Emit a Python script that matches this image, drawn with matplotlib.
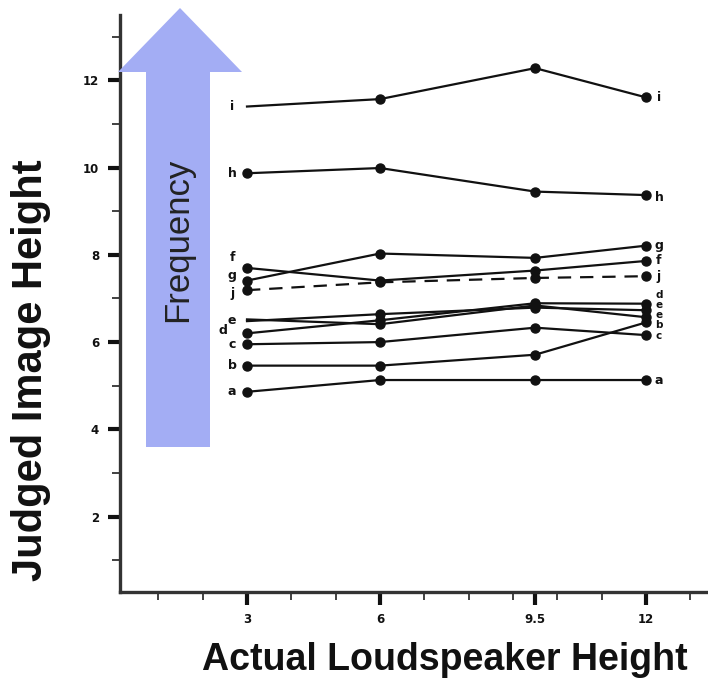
import matplotlib
matplotlib.use("Agg")
import matplotlib.pyplot as plt
from matplotlib.patches import Polygon

# speaker heights (x) and judged heights per band
speaker_heights = [3, 6, 9.5, 12]
x_tick_labels = ["3", "6", "9.5", "12"]
y_ticks = [2, 4, 6, 8, 10, 12]

band_i = [11.40, 11.57, 12.28, 11.61]
band_h = [9.87, 9.99, 9.45, 9.37]
band_g = [7.41, 8.03, 7.93, 8.21]
band_f = [7.70, 7.41, 7.64, 7.86]
band_j = [7.19, 7.37, 7.47, 7.51]
band_d = [6.20, 6.50, 6.89, 6.88]
band_e = [6.48, 6.64, 6.79, 6.73]
band_e2 = [6.52, 6.41, 6.84, 6.57]
band_c = [5.95, 6.00, 6.33, 6.16]
band_b = [5.46, 5.46, 5.71, 6.45]
band_a = [4.86, 5.13, 5.13, 5.13]

series = [
    # values, left label, right label, dashed, dot at first point
    (band_i, "i", "i", False, False),
    (band_h, "h", "h", False, True),
    (band_g, "g", "g", False, True),
    (band_f, "f", "f", False, True),
    (band_j, "j", "j", True, True),
    (band_d, "d", "d", False, True),
    (band_e, "e", "e", False, False),
    (band_e2, "", "e", False, False),
    (band_c, "c", "c", False, True),
    (band_b, "b", "b", False, True),
    (band_a, "a", "a", False, True),
]

# small pixel nudges for the letter labels so they don't collide
left_nudge = {"f": (0, 10), "g": (0, 5), "j": (0, -3), "d": (-9, 3), "e": (0, 1)}
right_nudge = {"d": (0, 9), "e": (0, 5), "e2": (0, 2), "b": (0, -3), "c": (0, -1), "h": (0, -2)}

fig = plt.figure(figsize=(7.08, 6.78), dpi=100)
ax = fig.add_axes([0.1695, 0.1268, 0.8305, 0.8512])

# frequency arrow behind everything (figure pixel coords / size)
W, H = 708.0, 678.0
arrow_px = [(146, 447), (146, 72), (118, 72), (180, 8), (242, 72), (210, 72), (210, 447)]
arrow = Polygon([(px / W, 1 - py / H) for px, py in arrow_px], closed=True,
                transform=fig.transFigure, facecolor="#a3adf4", edgecolor="none", zorder=0)
fig.patches.append(arrow)
fig.text(178 / W, 1 - 240 / H, "Frequency", rotation=90, ha="center", va="center",
         fontsize=25, family="Liberation Sans", color="#222222")

ax.patch.set_alpha(0)

for vals, llab, rlab, dashed, first_dot in series:
    ls = (0, (6, 4)) if dashed else "-"
    ax.plot(speaker_heights, vals, color="#111111", lw=1.6, ls=ls, zorder=3)
    xs = speaker_heights if first_dot else speaker_heights[1:]
    ys = vals if first_dot else vals[1:]
    ax.plot(xs, ys, "o", color="#111111", ms=6.5, zorder=4)
    if llab:
        dx, dy = left_nudge.get(llab, (0, 0))
        ax.annotate(llab, (speaker_heights[0], vals[0]), xytext=(-15 + dx, dy),
                    textcoords="offset pixels", ha="center", va="center",
                    fontsize=9, fontweight="bold", color="#111111")
    key = rlab if llab else rlab + "2"
    dx, dy = right_nudge.get(key, (0, 0))
    ax.annotate(rlab, (speaker_heights[-1], vals[-1]), xytext=(13 + dx, dy),
                textcoords="offset pixels", ha="center", va="center",
                fontsize=7.5 if key in ("d", "e", "e2", "b", "c") else 9,
                fontweight="bold", color="#111111")

ax.set_xlim(0.135, 13.4)
ax.set_ylim(0.27, 13.5)

ax.set_xticks(speaker_heights)
ax.set_xticklabels(x_tick_labels)
ax.set_xticks([v for v in range(1, 14) if v not in (3, 6, 12)], minor=True)
ax.set_yticks(y_ticks)
ax.set_yticks(list(range(1, 14, 2)), minor=True)

for side in ("top", "right"):
    ax.spines[side].set_visible(False)
for side in ("left", "bottom"):
    ax.spines[side].set_linewidth(2.4)
    ax.spines[side].set_color("#333333")

ax.tick_params(which="major", length=9, width=3, color="#111111", pad=6,
               labelsize=8.5, labelcolor="#111111")
ax.tick_params(which="minor", length=6, width=1.3, color="#333333")
for lab in ax.get_xticklabels() + ax.get_yticklabels():
    lab.set_fontweight("bold")

fig.text(445 / W, 1 - 660 / H, "Actual Loudspeaker Height", ha="center", va="center",
         fontsize=27, fontweight="bold", family="Liberation Sans", color="#111111")
fig.text(31 / W, 1 - 370 / H, "Judged Image Height", rotation=90, ha="center", va="center",
         fontsize=30, fontweight="bold", family="Liberation Sans", color="#111111")

fig.savefig("out.png", dpi=100)
